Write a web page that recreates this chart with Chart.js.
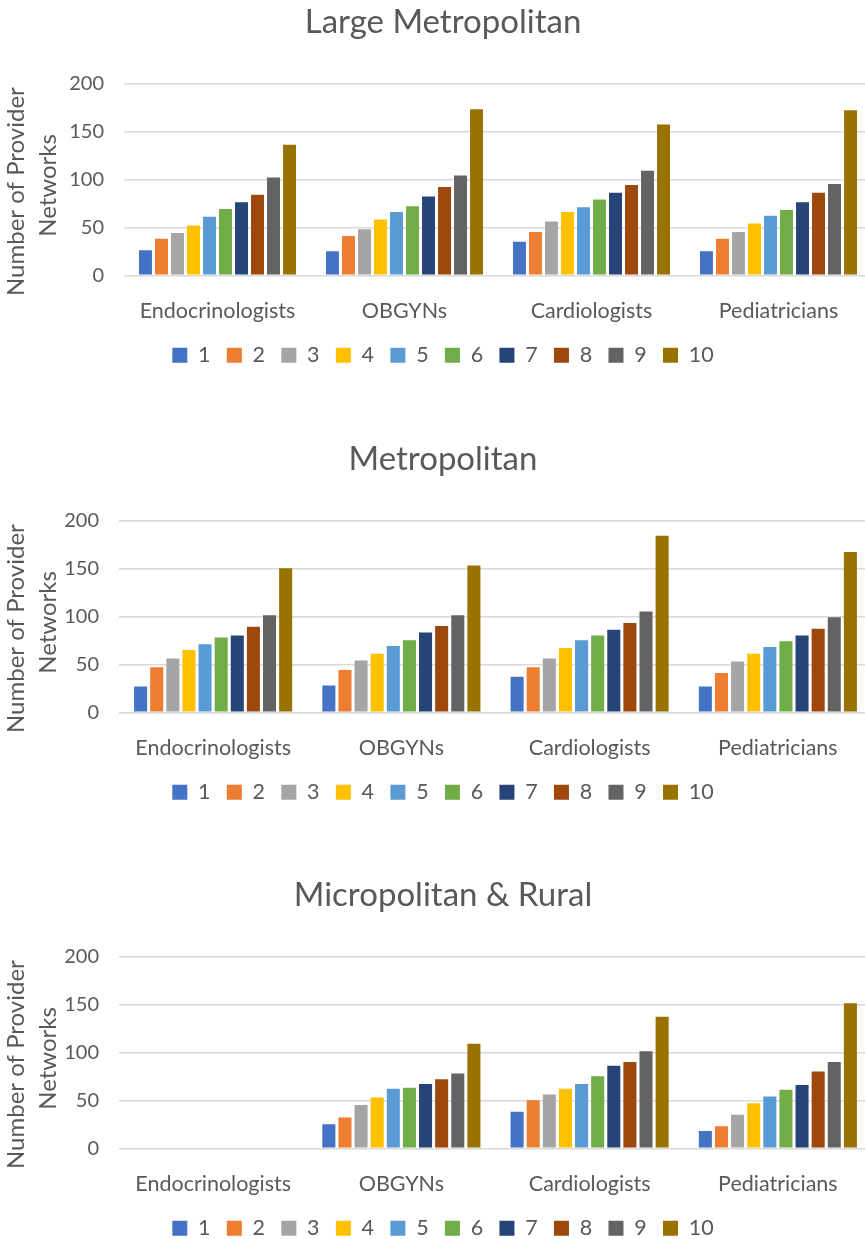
<!DOCTYPE html>
<html>
<head>
<meta charset="utf-8">
<script src="https://cdn.jsdelivr.net/npm/chart.js@4.4.1/dist/chart.umd.min.js"></script>
<style>
  html, body { margin: 0; padding: 0; background: #fff; width: 865px; height: 1239px; overflow: hidden; }
  .box { position: absolute; left: 0; width: 886px; height: 376px; }
</style>
</head>
<body>
<div class="box" style="top:0px"><canvas id="c1" width="886" height="376"></canvas></div>
<div class="box" style="top:436.7px"><canvas id="c2" width="886" height="376"></canvas></div>
<div class="box" style="top:873.3px"><canvas id="c3" width="886" height="376"></canvas></div>
<script>
const categories = ['Endocrinologists', 'OBGYNs', 'Cardiologists', 'Pediatricians'];
const seriesLabels = ['1', '2', '3', '4', '5', '6', '7', '8', '9', '10'];
const seriesColors = ['#4472C4', '#ED7D31', '#A5A5A5', '#FFC000', '#5B9BD5', '#70AD47', '#264478', '#9E480E', '#636363', '#997300'];
const yTicks = [0, 50, 100, 150, 200];

// Large Metropolitan (values per category, series 1..10)
const largeEndo   = [26, 38, 44, 52, 61, 69, 76, 84, 102, 136];
const largeObgyn  = [25, 41, 48, 58, 66, 72, 82, 92, 104, 173];
const largeCardio = [35, 45, 56, 66, 71, 79, 86, 94, 109, 157];
const largePedi   = [25, 38, 45, 54, 62, 68, 76, 86, 95, 172];

// Metropolitan
const metroEndo   = [27, 47, 56, 65, 71, 78, 80, 89, 101, 150];
const metroObgyn  = [28, 44, 54, 61, 69, 75, 83, 90, 101, 153];
const metroCardio = [37, 47, 56, 67, 75, 80, 86, 93, 105, 184];
const metroPedi   = [27, 41, 53, 61, 68, 74, 80, 87, 99, 167];

// Micropolitan & Rural (no Endocrinologist data)
const ruralEndo   = [null, null, null, null, null, null, null, null, null, null];
const ruralObgyn  = [25, 32, 45, 53, 62, 63, 67, 72, 78, 109];
const ruralCardio = [38, 50, 56, 62, 67, 75, 86, 90, 101, 137];
const ruralPedi   = [18, 23, 35, 47, 54, 61, 66, 80, 90, 151];

const FONT = 'Lato, "Open Sans", sans-serif';
const TXT = '#595959';
const PAD_L = 14;

function makeChart(id, title, perCategory, plotLeft) {
  const datasets = seriesLabels.map((lab, i) => ({
    label: lab,
    data: perCategory.map(arr => arr[i]),
    backgroundColor: seriesColors[i],
    borderWidth: 0,
    categoryPercentage: 0.856,
    barPercentage: 0.81
  }));
  new Chart(document.getElementById(id), {
    type: 'bar',
    data: { labels: categories, datasets },
    options: {
      responsive: false,
      animation: false,
      layout: { padding: { left: PAD_L, right: 14, top: 0, bottom: 0 } },
      plugins: {
        title: {
          display: true,
          text: title,
          color: TXT,
          font: { family: FONT, size: 33, weight: 'normal', lineHeight: 1.2 },
          padding: { top: 2.2, bottom: 41.5 }
        },
        legend: {
          position: 'bottom',
          labels: {
            color: TXT,
            font: { family: FONT, size: 21.5 },
            boxWidth: 15,
            boxHeight: 15,
            padding: 16.3
          }
        },
        tooltip: { enabled: false }
      },
      scales: {
        x: {
          grid: { display: false, drawTicks: false },
          border: { display: false },
          ticks: { color: TXT, font: { family: FONT, size: 21.5, lineHeight: 1.2 }, padding: 22.8, maxRotation: 0 },
          afterFit: (s) => { s.height = 52.9; }
        },
        y: {
          min: 0, max: 200,
          afterBuildTicks: (s) => { s.ticks = yTicks.map(v => ({ value: v })); },
          grid: { color: '#D9D9D9', lineWidth: 1.5, drawTicks: false },
          border: { display: false },
          ticks: { color: TXT, font: { family: FONT, size: 20 }, padding: 20 },
          title: {
            display: true,
            text: ['Number of Provider    ', 'Networks  '],
            color: TXT,
            font: { family: FONT, size: 24, lineHeight: 1.3 },
            padding: { top: 1 - PAD_L, bottom: 0 }
          },
          afterFit: (s) => { s.width = plotLeft - PAD_L; }
        }
      }
    }
  });
}

makeChart('c1', 'Large Metropolitan', [largeEndo, largeObgyn, largeCardio, largePedi], 124);
makeChart('c2', 'Metropolitan', [metroEndo, metroObgyn, metroCardio, metroPedi], 119);
makeChart('c3', 'Micropolitan & Rural', [ruralEndo, ruralObgyn, ruralCardio, ruralPedi], 119);
</script>
</body>
</html>
